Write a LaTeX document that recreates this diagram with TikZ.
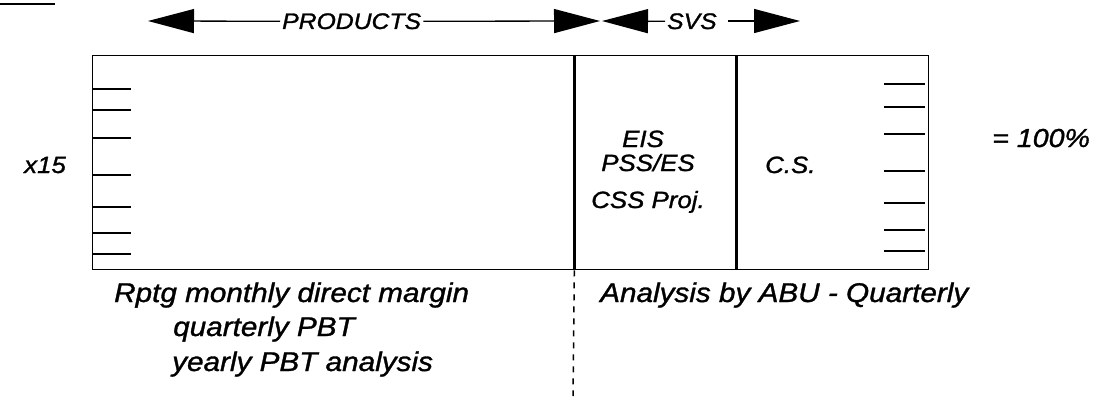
\documentclass[tikz,border=0pt]{standalone}
\usepackage{fontspec}
\setmainfont[FakeStretch=1.1,FakeBold=1.2]{Liberation Sans}
\usetikzlibrary{arrows.meta}
\begin{document}
\begin{tikzpicture}[x=1pt,y=-1pt,
  cell/.style={draw,line width=1.3pt,inner sep=0pt,minimum height=214pt,anchor=north west},
  tickline/.style={line width=1.8pt},
  lbl/.style={font=\itshape\fontsize{23.5}{26}\selectfont,inner sep=0pt},
  head/.style={font=\itshape\fontsize{22.5}{24}\selectfont,inner sep=2pt,anchor=base west},
  note/.style={font=\itshape\fontsize{27}{30}\selectfont,inner sep=0pt,anchor=base west},
  span/.style={line width=1.3pt,-{Triangle[length=46pt,width=24pt]}},
  guide/.style={line width=1.5pt,dash pattern=on 6pt off 6pt}]
\useasboundingbox (0,0) rectangle (1105,396);

% short rule in the top left corner
\draw[line width=1.5pt] (0,4) -- (55,4);

% span arrows above the table
\node[head] (prod) at (280,29) {PRODUCTS};
\coordinate (prodL) at (148,21);
\coordinate (prodR) at (600,21);
\draw[span] (prod.west) -- (prodL);
\draw[span] (prod.east) -- (prodR);

\node[head] (svs) at (665,29) {SVS};
\coordinate (svsL) at (602,21);
\coordinate (svsR0) at (728,21);
\coordinate (svsR) at (800,21);
\draw[span] (svs.west) -- (svsL);
\draw[span] (svsR0) -- (svsR);

% the three cells of the table
\node[cell,minimum width=481pt] (pc) at (92,55) {};
\node[cell,minimum width=161pt] (sc) at (pc.north east) {};
\node[cell,minimum width=191pt] (cc) at (sc.north east) {};

% tick marks on both outer sides
\foreach \y in {89,110,138,175,207,233,254}
  \draw[tickline] (92,\y) -- (131,\y);
\foreach \y in {84,107,134,171,203,230,251}
  \draw[tickline] (884,\y) -- (925,\y);

% cell contents and side labels
\node[lbl,anchor=base] (eis) at (643,147) {EIS};
\node[lbl,anchor=base] (pss) at (648,171) {PSS/ES};
\node[lbl,anchor=base] (css) at (648,208) {CSS Proj.};
\node[lbl,anchor=base west] (cs) at (765,173) {C.S.};
\node[lbl,anchor=base west,font=\itshape\fontsize{26}{30}\selectfont] (pct) at (992,147) {= 100\%};
\node[lbl,anchor=base west] (x15) at (24,173) {x15};

% dashed divider below the table
\coordinate (guideEnd) at (573,396);
\draw[guide] (pc.south east) -- (guideEnd);

% notes below the table
\node[note] (n1) at (114,302) {Rptg monthly direct margin};
\node[note] (n2) at (173,336) {quarterly PBT};
\node[note] (n3) at (172,371) {yearly PBT analysis};
\node[note] (n4) at (600,302) {Analysis by ABU - Quarterly};
\end{tikzpicture}
\end{document}
